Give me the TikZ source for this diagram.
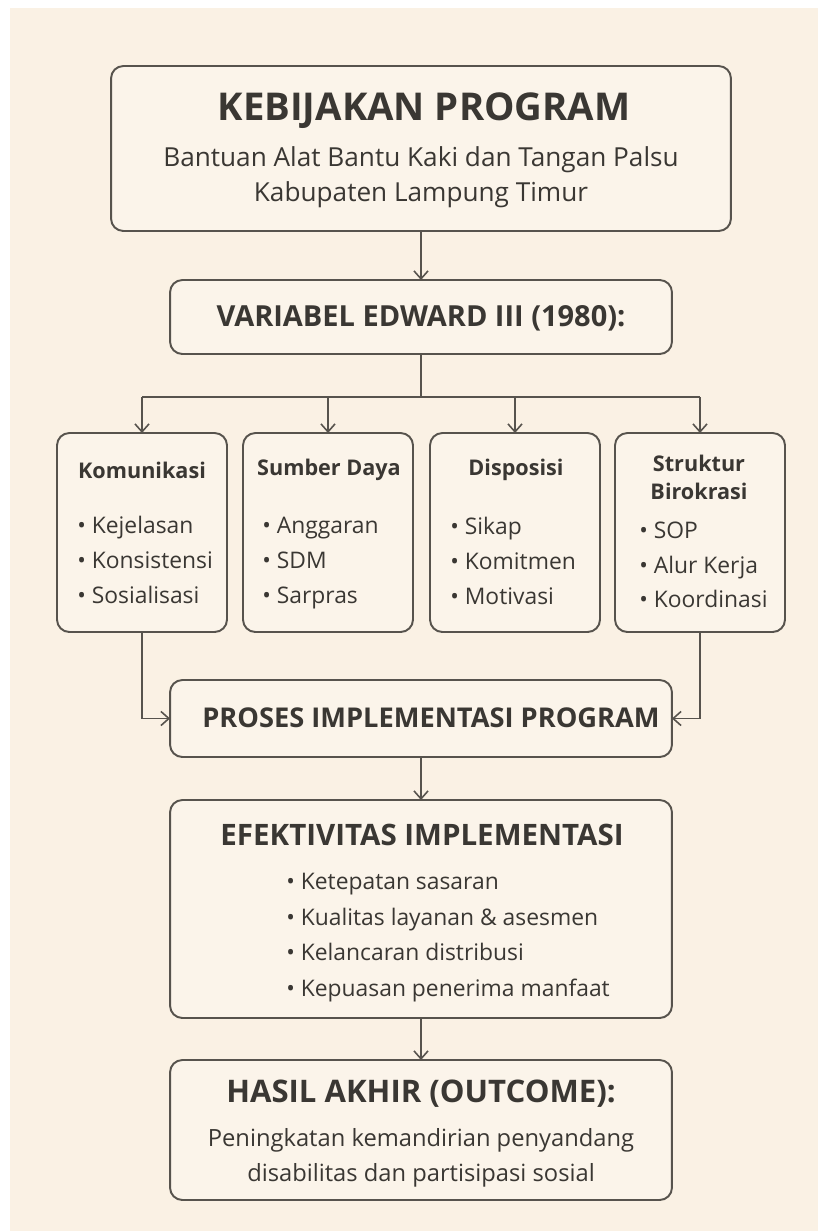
\documentclass[tikz,border=0pt]{standalone}
\usepackage{fontspec}
\setmainfont{Open Sans}
\usepackage{tikz}
\usetikzlibrary{positioning}
\usetikzlibrary{arrows.meta}
\definecolor{pagecream}{HTML}{FAF1E4}
\definecolor{boxcream}{HTML}{FBF4EA}
\definecolor{inkgray}{HTML}{3A3733}
\definecolor{rulegray}{HTML}{57534D}
\tikzset{
  panel/.style={draw=rulegray, fill=boxcream, line width=1.1pt, rounded corners=7pt,
    inner sep=0pt, outer sep=0pt},
  link/.style={draw=rulegray, line width=0.9pt},
  arr/.style={link, -{Straight Barb[length=4.5pt,width=8pt]}},
  bigtitle/.style={text=inkgray, inner sep=0pt, font=\bfseries\fontsize{20.5}{24}\selectfont},
  midtitle/.style={text=inkgray, inner sep=0pt, font=\bfseries\fontsize{16.5}{20}\selectfont},
  boxhead/.style={text=inkgray, inner sep=0pt, align=center, font=\bfseries\fontsize{12.3}{15.9}\selectfont},
  itemlist/.style={text=inkgray, inner sep=0pt, align=left, font=\fontsize{13}{19.8}\selectfont},
  plaintext/.style={text=inkgray, inner sep=0pt, align=center, font=\fontsize{13.5}{19.8}\selectfont}
}
\begin{document}
\begin{tikzpicture}[x=0.02cm,y=-0.02cm]
\fill[white] (0,0) rectangle (818,1231);
\fill[pagecream] (10,8) rectangle (818,1231);
% main column
\node[panel, minimum width=12.4cm, minimum height=3.3cm] (keb) at (421,148.5) {};
\node[panel, minimum width=10.04cm, minimum height=1.48cm] (var) at (421,317) {};
\foreach \nm/\cx in {kom/142,sdm/328,disp/515,struk/700} {
\node[panel, minimum width=3.4cm, minimum height=3.98cm] (\nm) at (\cx,532.5) {};
}
\node[panel, minimum width=10.04cm, minimum height=1.54cm] (pros) at (421,718.5) {};
\node[panel, minimum width=10.04cm, minimum height=4.36cm] (efek) at (421,909) {};
\node[panel, minimum width=10.04cm, minimum height=2.8cm] (hasil) at (421,1130) {};
% texts
\node[bigtitle, font=\bfseries\fontsize{21.8}{26}\selectfont] (kebt) at (424,111) {KEBIJAKAN PROGRAM};
\node[plaintext, font=\fontsize{14.9}{20.2}\selectfont] (kebs) at (421,177) {Bantuan Alat Bantu Kaki dan Tangan Palsu\\Kabupaten Lampung Timur};
\node[midtitle] (vart) at (421,318) {VARIABEL EDWARD III (1980):};
\node[boxhead] (komh) at (142,470) {Komunikasi};
\node[boxhead] (sdmh) at (329,470) {Sumber Daya};
\node[boxhead] (disph) at (516,470) {Disposisi};
\node[boxhead] (strukh) at (699,477) {Struktur\\Birokrasi};
\node[itemlist, anchor=west] (komi) at (77,560) {\textbullet\ Kejelasan\\\textbullet\ Konsistensi\\\textbullet\ Sosialisasi};
\node[itemlist, anchor=west] (sdmi) at (262,563) {\textbullet\ Anggaran\\\textbullet\ SDM\\\textbullet\ Sarpras};
\node[itemlist, anchor=west] (dispi) at (450,561) {\textbullet\ Sikap\\\textbullet\ Komitmen\\\textbullet\ Motivasi};
\node[itemlist, anchor=west] (struki) at (639,565) {\textbullet\ SOP\\\textbullet\ Alur Kerja\\\textbullet\ Koordinasi};
\node[midtitle, font=\bfseries\fontsize{15.5}{20}\selectfont] (prost) at (431,718) {PROSES IMPLEMENTASI PROGRAM};
\node[bigtitle, font=\bfseries\fontsize{16.8}{20}\selectfont] (efekt) at (422,835) {EFEKTIVITAS IMPLEMENTASI};
\node[itemlist, anchor=west, font=\fontsize{13}{20.2}\selectfont] (efeki) at (286,937.5) {\textbullet\ Ketepatan sasaran\\\textbullet\ Kualitas layanan \& asesmen\\\textbullet\ Kelancaran distribusi\\\textbullet\ Kepuasan penerima manfaat};
\node[bigtitle, font=\bfseries\fontsize{17.7}{21}\selectfont] (hasilt) at (421,1094) {HASIL AKHIR (OUTCOME):};
\node[plaintext] (hasils) at (421,1158) {Peningkatan kemandirian penyandang\\disabilitas dan partisipasi sosial};
% connectors
\draw[arr] (keb) -- (var);
\draw[link] (var.south) -- ++(0,43) coordinate (bus);
\draw[link] (bus -| kom.north) -- (bus -| struk.north);
\foreach \nm in {kom,sdm,disp,struk} {
\draw[arr] (bus -| \nm.north) -- (\nm.north);
}
\draw[arr] (kom.south) |- (pros.west);
\draw[arr] (struk.south) |- (pros.east);
\draw[arr] (pros) -- (efek);
\draw[arr] (efek) -- (hasil);
\end{tikzpicture}
\end{document}
